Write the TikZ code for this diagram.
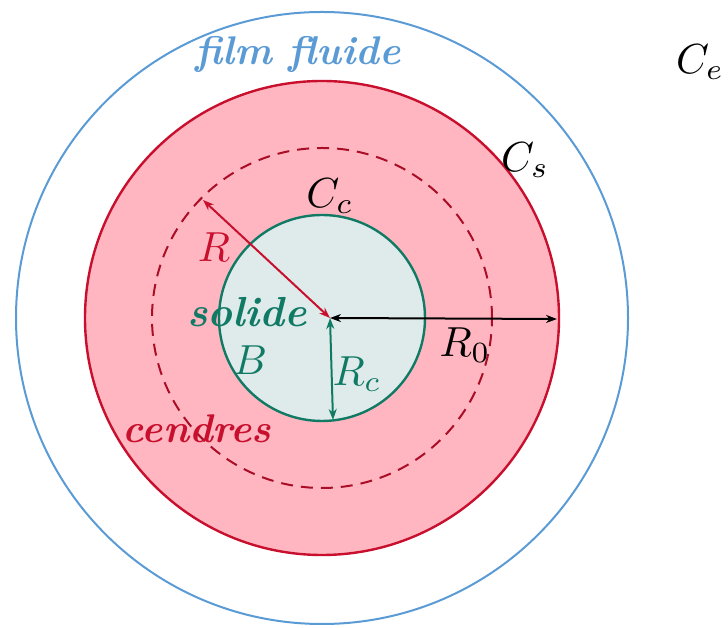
\documentclass[tikz,border=0pt]{standalone}
\usepackage{tikz}
\usetikzlibrary{arrows.meta}
\definecolor{FilmBlue}{HTML}{5B9BD5}
\definecolor{AshRed}{HTML}{C8102E}
\definecolor{AshPink}{HTML}{FFB6C1}
\definecolor{CoreGreen}{HTML}{117A65}
\definecolor{CoreFill}{HTML}{DFEBEB}
\newcommand{\symlab}[1]{\scalebox{4.2}{$#1$}}

\begin{document}
\begin{tikzpicture}[
    x=1pt, y=1pt,
    >={Stealth[length=11pt,width=8pt]},
    lab/.style={inner sep=0pt},
    word/.style={font=\fontsize{40}{44}\selectfont\bfseries\itshape, inner sep=0pt},
    radiusarrow/.style={<->, line width=2pt}
]
\useasboundingbox (0,0) rectangle (728,628);
\coordinate (c) at (322,310);
\coordinate (o) at (330,310);
\coordinate (rtip) at (203,428);
\coordinate (rzero) at (557,309);
\coordinate (rcore) at (333,208);

% zones
\draw[FilmBlue, line width=2pt] (c) circle[radius=306];
\draw[AshRed, fill=AshPink, line width=2.4pt] (c) circle[radius=237];
\draw[AshRed!85!black, dashed, dash pattern=on 12pt off 8pt, line width=2pt] (c) circle[radius=170];
\draw[CoreGreen, fill=CoreFill, line width=2.4pt] (c) circle[radius=103];

% radii
\draw[radiusarrow, AshRed] (o) -- (rtip);
\draw[radiusarrow, black] (o) -- (rzero);
\draw[radiusarrow, CoreGreen] (o) -- (rcore);

% labels
\node[word, FilmBlue] (film) at (298,573) {film fluide};
\node[lab, anchor=west] (ce) at (676,566) {\symlab{C_e}};
\node[lab] (cs) at (525,468) {\symlab{C_s}};
\node[lab] (cc) at (330,432) {\symlab{C_c}};
\node[lab, AshRed] (rlab) at (214,381) {\symlab{R}};
\node[word, CoreGreen] (solid) at (247,316) {\scalebox{1.05}{solide}};
\node[lab, CoreGreen] (blab) at (250,268) {\symlab{B}};
\node[lab, CoreGreen] (rclab) at (357,254) {\symlab{R_c}};
\node[lab] (r0lab) at (465,283) {\symlab{R_0}};
\node[word, AshRed] (ash) at (197,199) {cendres};
\end{tikzpicture}
\end{document}
